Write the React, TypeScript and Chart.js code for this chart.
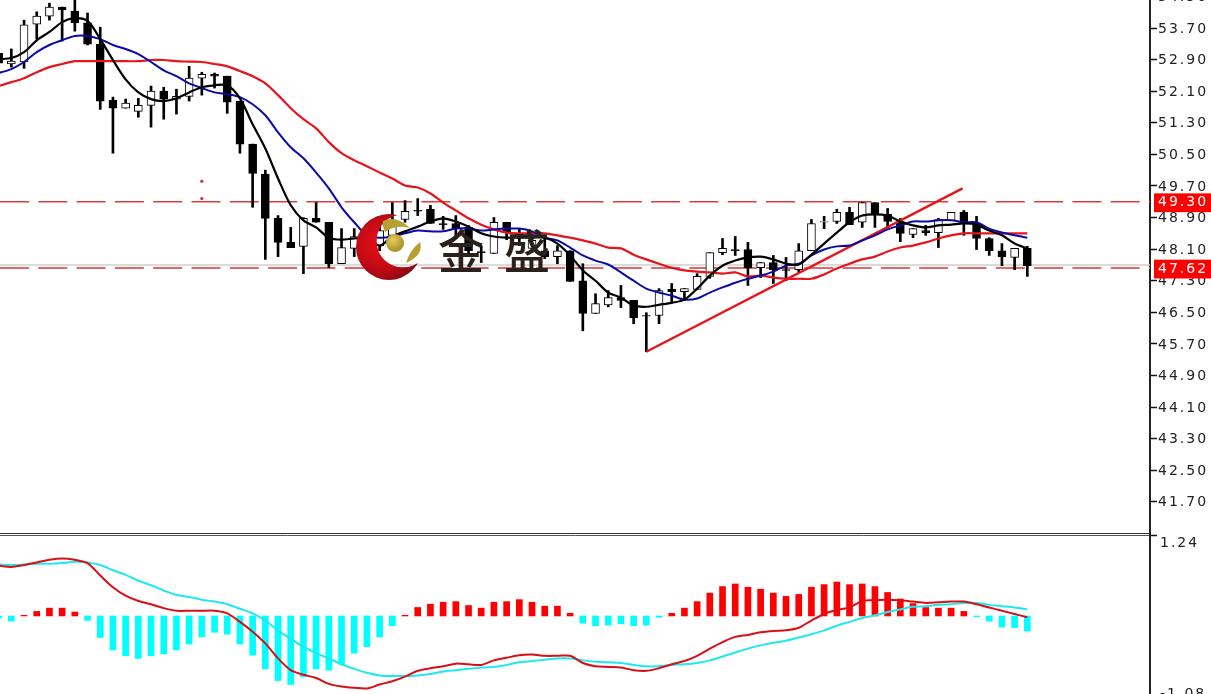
import React, { useEffect, useRef } from "react";
import { Chart, registerables } from "chart.js";

Chart.register(...registerables);

const opens = [53.06,52.79,52.84,53.80,54.00,54.23,54.13,53.83,53.29,51.87,51.67,51.59,51.74,52.10,51.90,51.97,52.43,52.53,52.48,51.85,50.76,50.00,48.88,48.27,48.17,48.88,48.78,47.73,48.12,48.12,48.19,48.45,48.85,49.08,49.11,48.75,48.75,48.65,48.04,47.99,48.78,48.50,48.12,48.06,47.91,48.06,47.30,46.47,46.69,46.87,46.80,46.42,46.42,47.08,47.02,47.08,47.41,48.01,48.09,48.09,47.63,47.76,47.58,47.58,48.06,48.78,48.80,49.03,48.78,49.28,48.98,48.80,48.47,48.57,48.52,48.83,49.03,48.75,48.37,48.06,47.89,48.12];
const highs = [53.14,53.17,53.90,54.11,54.33,54.23,54.50,54.08,53.72,51.95,51.90,51.92,52.23,52.20,52.15,52.73,52.58,52.56,52.48,51.85,50.76,50.10,48.95,48.65,48.90,49.28,48.78,48.62,48.62,48.70,48.83,49.28,49.33,49.38,49.21,48.93,48.95,48.70,48.19,48.90,48.78,48.62,48.52,48.39,48.19,48.06,47.73,46.97,47.05,47.18,46.80,46.49,47.10,47.23,47.10,47.48,48.01,48.37,48.42,48.27,47.76,47.94,47.89,48.24,48.85,48.93,49.11,49.16,49.28,49.28,49.13,48.88,48.62,48.70,48.88,49.03,49.08,48.93,48.39,48.24,48.12,48.17];
const lows = [52.76,52.71,52.68,53.42,53.90,53.37,53.62,53.27,51.64,50.53,51.67,51.44,51.19,51.39,51.52,51.85,52.00,52.18,51.54,50.53,49.16,47.84,47.91,48.14,47.48,48.78,47.63,47.73,47.91,47.94,48.06,48.19,48.78,48.95,48.75,48.60,48.37,48.01,47.76,47.99,48.34,48.19,48.01,47.86,47.73,47.28,46.03,46.47,46.64,46.62,46.21,45.50,46.21,46.75,46.80,47.08,47.36,47.96,47.94,47.18,47.38,47.23,47.30,47.51,48.06,48.62,48.75,48.72,48.65,48.65,48.65,48.29,48.39,48.45,48.14,48.83,48.45,48.09,47.94,47.68,47.58,47.41];
const closes = [52.81,52.86,53.78,54.00,54.23,54.16,53.83,53.29,51.85,51.67,51.80,51.74,52.10,51.90,51.97,52.43,52.53,52.48,51.82,50.76,50.02,48.88,48.27,48.14,48.88,48.78,47.73,48.14,48.42,48.52,48.57,48.75,49.06,49.06,48.75,48.72,48.62,48.06,48.01,48.78,48.52,48.42,48.32,47.91,48.06,47.28,46.47,46.72,46.87,46.80,46.36,46.40,47.05,47.02,47.10,47.41,48.01,48.12,48.06,47.63,47.76,47.58,47.56,48.06,48.75,48.80,49.03,48.72,49.28,48.98,48.80,48.50,48.62,48.52,48.85,49.03,48.78,48.37,48.06,47.91,48.12,47.68];

const maFast = [52.91,52.94,53.09,53.39,53.60,53.85,53.95,53.88,53.42,52.89,52.40,52.07,51.90,51.85,51.92,52.07,52.20,52.25,52.25,51.92,51.26,50.65,49.89,49.21,48.83,48.65,48.39,48.34,48.37,48.37,48.19,48.42,48.55,48.67,48.80,48.88,48.80,48.67,48.50,48.42,48.39,48.39,48.39,48.39,48.24,47.94,47.56,47.30,47.00,46.87,46.67,46.64,46.69,46.74,46.82,47.10,47.43,47.68,47.81,47.89,47.91,47.84,47.73,47.71,47.96,48.24,48.52,48.78,48.95,48.98,48.95,48.80,48.70,48.65,48.70,48.72,48.75,48.72,48.57,48.45,48.24,48.12];
const maMid = [52.56,52.66,52.84,53.09,53.27,53.39,53.50,53.50,53.42,53.27,53.17,53.04,52.84,52.63,52.48,52.30,52.18,52.07,52.02,51.95,51.77,51.49,51.06,50.68,50.40,50.04,49.64,49.16,48.78,48.45,48.39,48.42,48.50,48.57,48.55,48.55,48.62,48.62,48.57,48.60,48.62,48.62,48.55,48.39,48.32,48.14,47.94,47.81,47.71,47.51,47.30,47.10,47.00,46.92,46.82,46.85,47.00,47.13,47.25,47.35,47.43,47.53,47.68,47.73,47.94,48.09,48.17,48.19,48.32,48.45,48.60,48.70,48.80,48.80,48.83,48.83,48.78,48.78,48.62,48.52,48.45,48.39];
const maSlow = [52.23,52.33,52.43,52.58,52.71,52.79,52.86,52.86,52.86,52.86,52.86,52.86,52.89,52.89,52.86,52.85,52.84,52.79,52.73,52.61,52.48,52.30,52.00,51.67,51.39,51.16,50.81,50.53,50.35,50.20,50.04,49.89,49.71,49.66,49.51,49.28,49.08,48.88,48.72,48.60,48.52,48.50,48.50,48.50,48.45,48.39,48.32,48.24,48.14,48.12,47.96,47.84,47.73,47.63,47.56,47.53,47.51,47.48,47.51,47.41,47.43,47.38,47.35,47.35,47.35,47.46,47.61,47.73,47.84,47.91,48.04,48.14,48.19,48.27,48.37,48.45,48.50,48.50,48.50,48.50,48.50,48.50];

const histogram = [-0.03,-0.08,0.01,0.07,0.12,0.12,0.06,-0.07,-0.33,-0.52,-0.61,-0.65,-0.61,-0.58,-0.52,-0.43,-0.32,-0.25,-0.28,-0.43,-0.60,-0.81,-0.99,-1.05,-0.93,-0.81,-0.83,-0.74,-0.57,-0.47,-0.32,-0.15,0.01,0.13,0.18,0.21,0.22,0.16,0.12,0.21,0.22,0.25,0.21,0.15,0.15,0.04,-0.11,-0.15,-0.14,-0.12,-0.15,-0.14,-0.02,0.04,0.12,0.22,0.35,0.45,0.49,0.44,0.41,0.35,0.30,0.33,0.44,0.48,0.52,0.48,0.49,0.45,0.36,0.26,0.19,0.13,0.12,0.12,0.07,-0.01,-0.08,-0.17,-0.18,-0.23];
const macdMain = [0.77,0.75,0.78,0.82,0.86,0.88,0.86,0.81,0.62,0.44,0.31,0.23,0.18,0.12,0.08,0.08,0.08,0.08,0.04,-0.09,-0.24,-0.42,-0.65,-0.83,-0.90,-0.95,-1.04,-1.08,-1.10,-1.11,-1.05,-1.00,-0.93,-0.84,-0.80,-0.77,-0.73,-0.74,-0.75,-0.68,-0.64,-0.60,-0.59,-0.61,-0.61,-0.61,-0.72,-0.77,-0.78,-0.79,-0.83,-0.84,-0.80,-0.74,-0.69,-0.61,-0.50,-0.40,-0.32,-0.29,-0.25,-0.23,-0.22,-0.18,-0.07,0.03,0.09,0.13,0.23,0.24,0.25,0.24,0.22,0.20,0.21,0.22,0.22,0.18,0.13,0.08,0.03,-0.02];
const macdSignal = [0.79,0.78,0.79,0.80,0.80,0.81,0.83,0.82,0.78,0.70,0.63,0.54,0.47,0.39,0.32,0.29,0.25,0.22,0.18,0.11,0.04,-0.07,-0.22,-0.35,-0.47,-0.57,-0.65,-0.74,-0.81,-0.87,-0.91,-0.92,-0.92,-0.91,-0.89,-0.85,-0.83,-0.81,-0.79,-0.78,-0.75,-0.71,-0.69,-0.67,-0.65,-0.65,-0.68,-0.70,-0.71,-0.72,-0.75,-0.77,-0.77,-0.75,-0.74,-0.72,-0.68,-0.62,-0.56,-0.50,-0.45,-0.41,-0.38,-0.33,-0.28,-0.22,-0.15,-0.09,-0.03,0.01,0.06,0.10,0.14,0.15,0.17,0.18,0.20,0.20,0.17,0.15,0.13,0.10];

const priceTicks = [54.5,53.7,52.9,52.1,51.3,50.5,49.7,48.9,48.1,47.3,46.5,45.7,44.9,44.1,43.3,42.5,41.7];
const priceTags = [49.3,47.62];
const macdTicks = [1.24,-1.08];
const supportLevel = 47.62;
const resistanceLevel = 49.3;
const greyLevel = 47.7;
const trendX = [51, 75.9];
const trendY = [45.5, 49.64];
const markerX = [16, 16];
const markerY = [49.82, 49.385];
const logoText = "金盛";

const X_MIN = 0.107;
const X_MAX = 90.66;
const AXIS_W = 61;
const labelFont = { family: "'DejaVu Sans', sans-serif", size: 14 };
const idx = (a: number[]) => a.map((y, x) => ({ x, y }));
const spacing = { id: "spacing", beforeInit: (c: any) => { c.ctx.letterSpacing = "2px"; }, beforeDraw: (c: any) => { c.ctx.letterSpacing = "2px"; } };
const zeroPad = (s: any) => { s.paddingLeft = 0; s.paddingRight = 0; s.paddingTop = 0; s.paddingBottom = 0; };
const xScale = (position: string, color: string) => ({
  type: "linear", position, min: X_MIN, max: X_MAX, offset: false,
  ticks: { display: false }, grid: { display: false, drawTicks: false },
  border: { color, width: 1 },
  afterFit: (s: any) => { s.height = 1; zeroPad(s); },
});

export default function App() {
  const top = useRef<HTMLCanvasElement>(null);
  const bottom = useRef<HTMLCanvasElement>(null);
  useEffect(() => {
    document.body.style.margin = "0";
    document.body.style.background = "#fff";
    const level = (y: number) => [{ x: X_MIN, y }, { x: X_MAX, y }];
    const body = opens.map((o, i) => ({ x: i, y: [o, closes[i]] }));
    const bodyFill = opens.map((o, i) => (closes[i] >= o ? "#ffffff" : "#000000"));
    const price = new Chart(top.current!, {
      type: "bar",
      plugins: [spacing],
      data: {
        datasets: [
          { type: "line", label: "grey", data: level(greyLevel), borderColor: "#cfcfcf", borderWidth: 1.5, pointRadius: 0, order: 9 },
          { type: "line", label: "resistance", data: level(resistanceLevel), borderColor: "#dc3c3c", borderWidth: 1.4, borderDash: [29, 9.3], pointRadius: 0, order: 8 },
          { type: "line", label: "support", data: level(supportLevel), borderColor: "#dd6a6a", borderWidth: 2, borderDash: [29, 9.3], pointRadius: 0, order: 8 },
          { type: "bar", label: "wick", data: lows.map((l, i) => ({ x: i, y: [l, highs[i]] })), backgroundColor: "#000", barThickness: 2, grouped: false, order: 6 },
          { type: "bar", label: "body", data: body, backgroundColor: bodyFill, borderColor: "#000", borderWidth: 1, borderSkipped: false, barThickness: 8, grouped: false, order: 5 },
          { type: "line", label: "trend", data: trendX.map((x, i) => ({ x, y: trendY[i] })), borderColor: "#e8141c", borderWidth: 2.4, pointRadius: 0, order: 4 },
          { type: "line", label: "slow", data: idx(maSlow), borderColor: "#e8141c", borderWidth: 2.2, pointRadius: 0, tension: 0.3, order: 3 },
          { type: "line", label: "mid", data: idx(maMid), borderColor: "#0a0aa8", borderWidth: 2, pointRadius: 0, tension: 0.3, order: 2 },
          { type: "line", label: "fast", data: idx(maFast), borderColor: "#000", borderWidth: 2.2, pointRadius: 0, tension: 0.3, order: 1 },
          { type: "scatter", label: "marks", data: markerX.map((x, i) => ({ x, y: markerY[i] })), backgroundColor: "#e03030", pointRadius: 1.5, order: 0 },
        ],
      } as any,
      options: {
        animation: false, responsive: false,
        layout: { padding: 0, autoPadding: false },
        plugins: { legend: { display: false }, tooltip: { enabled: false } },
        scales: {
          x: xScale("bottom", "#333333"),
          y: {
            position: "right", min: 40.91, max: 54.41,
            border: { color: "#222", width: 2 },
            grid: { display: true, drawOnChartArea: false, drawTicks: true, tickLength: 7, tickWidth: 1.5, tickColor: (c: any) => priceTags.includes(c.tick?.value) ? "transparent" : "#111" },
            ticks: {
              autoSkip: false, padding: 1, maxRotation: 0, font: labelFont, labelOffset: 1,
              color: (c: any) => priceTags.includes(c.tick?.value) ? "#ffffff" : "#222",
              showLabelBackdrop: (c: any) => priceTags.includes(c.tick?.value),
              backdropColor: "#ff0000", backdropPadding: { left: 4, right: 16, top: 1, bottom: 1 },
              callback: (v: any) => Number(v).toFixed(2),
            },
            afterBuildTicks: (s: any) => { s.ticks = [...priceTicks, ...priceTags].map((value) => ({ value })); },
            afterFit: (s: any) => { s.width = AXIS_W; zeroPad(s); },
          },
        },
      } as any,
    });
    const macd = new Chart(bottom.current!, {
      type: "bar",
      plugins: [spacing],
      data: {
        datasets: [
          { type: "line", label: "signal", data: idx(macdSignal), borderColor: "#1fe9ee", borderWidth: 2, pointRadius: 0, tension: 0.3, order: 2 },
          { type: "line", label: "main", data: idx(macdMain), borderColor: "#d80f16", borderWidth: 2, pointRadius: 0, tension: 0.3, order: 1 },
          { type: "bar", label: "hist", data: idx(histogram), backgroundColor: histogram.map((v) => (v >= 0 ? "#ff0000" : "#00ffff")), barThickness: 6, grouped: false, order: 3 },
        ],
      } as any,
      options: {
        animation: false, responsive: false,
        layout: { padding: 0, autoPadding: false },
        plugins: { legend: { display: false }, tooltip: { enabled: false } },
        scales: {
          x: xScale("top", "#555555"),
          y: {
            position: "right", min: -1.195, max: 1.24,
            border: { color: "#222", width: 2 },
            grid: { drawOnChartArea: false, tickLength: 7, tickWidth: 1.5, tickColor: (c: any) => c.tick?.value === macdTicks[0] ? "#111" : "transparent" },
            ticks: {
              autoSkip: false, padding: 3, maxRotation: 0, font: labelFont, color: "#222", labelOffset: 8,
              callback: (v: any) => Number(v).toFixed(2),
            },
            afterBuildTicks: (s: any) => { s.ticks = macdTicks.map((value) => ({ value })); },
            afterFit: (s: any) => { s.width = AXIS_W; zeroPad(s); },
          },
        },
      } as any,
    });
    return () => { price.destroy(); macd.destroy(); };
  }, []);
  const soft = "blur(0.35px)";
  return (
    <div style={{ position: "relative", width: 1211, height: 694, overflow: "hidden", background: "#fff" }}>
      <canvas ref={top} width={1211} height={534} style={{ position: "absolute", left: 0, top: 0, filter: soft }} />
      <canvas ref={bottom} width={1211} height={160} style={{ position: "absolute", left: 0, top: 534, filter: soft }} />
      <svg width={1211} height={694} style={{ position: "absolute", left: 0, top: 0, pointerEvents: "none" }}>
        <defs>
          <radialGradient id="moon" cx="0.4" cy="0.45" r="0.65">
            <stop offset="0" stopColor="#f01018" />
            <stop offset="0.6" stopColor="#c00a14" />
            <stop offset="1" stopColor="#7a0a12" />
          </radialGradient>
          <radialGradient id="ball" cx="0.4" cy="0.35" r="0.7">
            <stop offset="0" stopColor="#e8cc60" />
            <stop offset="1" stopColor="#a08a20" />
          </radialGradient>
          <mask id="cut">
            <rect width="1211" height="694" fill="#fff" />
            <circle cx="403" cy="241" r="26.5" fill="#000" />
          </mask>
        </defs>
        <circle cx="389" cy="247" r="33" fill="url(#moon)" mask="url(#cut)" />
        <circle cx="395" cy="243" r="9" fill="url(#ball)" />
        <path d="M383 221 Q396 215 410 228 Q396 224 385 232 Q382 226 383 221 Z" fill="#b8a030" />
        <path d="M420 242 Q424 255 406 263 Q410 250 420 242 Z" fill="#b8a030" />
      </svg>
      <div style={{ position: "absolute", left: 438, top: 215, fontFamily: "'Noto Sans CJK SC'", fontSize: 46, fontWeight: 500, letterSpacing: 20, color: "#2b211c", lineHeight: "66px", whiteSpace: "nowrap" }}>{logoText}</div>
    </div>
  );
}
